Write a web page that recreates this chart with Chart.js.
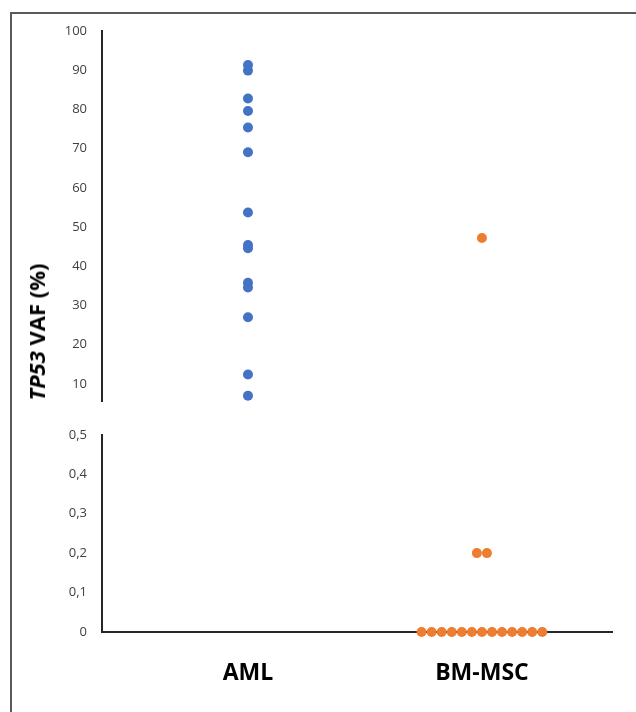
<!DOCTYPE html>
<html>
<head>
<meta charset="utf-8">
<script src="https://cdn.jsdelivr.net/npm/chart.js@4.4.0/dist/chart.umd.min.js"></script>
<style>
    html, body { margin: 0; padding: 0; background: #fff; }
    #page { position: relative; width: 636px; height: 712px; overflow: hidden; }
    #frame {
        position: absolute; left: 10px; top: 12px; right: -4px; bottom: -4px;
        border-top: 2px solid #5a5a5a; border-left: 2px solid #5a5a5a;
    }
    #upper { position: absolute; left: 0; top: 0; }
    #lower { position: absolute; left: 0; top: 420px; }
    #ytitle {
        position: absolute; left: 36px; top: 332px;
        transform: translate(-50%, -50%) rotate(-90deg);
        white-space: nowrap;
        font-family: "Open Sans", sans-serif; font-weight: bold; font-size: 22px; color: #000;
    }
</style>
</head>
<body>
<div id="page">
    <div id="frame"></div>
    <canvas id="upper" width="636" height="416"></canvas>
    <canvas id="lower" width="636" height="292"></canvas>
    <div id="ytitle"><i>TP53</i> VAF (%)</div>
</div>
<script>
// Data
const categories = ['AML', 'BM-MSC'];
const amlVaf = [91.3, 89.9, 82.8, 79.6, 75.4, 69.1, 53.7, 45.4, 44.6, 35.8, 34.6, 27.0, 12.4, 7.0];
const mscVaf = [47.2, 0.2, 0.2, 0, 0, 0, 0, 0, 0, 0, 0, 0, 0, 0, 0, 0];
const upperTicks = [10, 20, 30, 40, 50, 60, 70, 80, 90, 100];
const lowerTicks = [0, 0.1, 0.2, 0.3, 0.4, 0.5];

// Axis break: values above breakAt go in the upper panel
const breakAt = 0.5;
const upperMin = 5.6;
const xMin = 0.376, xMax = 2.556;
const dotStep = 0.043;   // horizontal step between tied points (swarm)

const colors = ['#4472C4', '#ED7D31'];
const axisColor = '#262626';
const tickFont = { family: 'Open Sans', size: 13 };

// spread equal values side by side around the category centre
function swarm(values, center) {
    const counts = {};
    values.forEach(v => counts[v] = (counts[v] || 0) + 1);
    const seen = {};
    return values.map(v => {
        const k = seen[v] || 0;
        seen[v] = k + 1;
        return { x: center + (k - (counts[v] - 1) / 2) * dotStep, y: v };
    });
}

const series = [amlVaf, mscVaf].map((vals, i) => swarm(vals, i + 1));

function buildDatasets(filter) {
    return series.map((pts, i) => ({
        label: categories[i],
        data: pts.filter(p => filter(p.y)),
        backgroundColor: colors[i],
        borderWidth: 0,
        pointRadius: 5,
        clip: false
    }));
}

function makeChart(canvasId, cfg) {
    const ctx = document.getElementById(canvasId)?.getContext('2d');
    if (!ctx) return null;
    return new Chart(ctx, {
        type: 'scatter',
        data: { datasets: cfg.datasets },
        options: {
            responsive: false,
            animation: false,
            events: [],
            layout: { padding: cfg.padding },
            plugins: { legend: { display: false }, tooltip: { enabled: false } },
            scales: {
                x: cfg.x,
                y: cfg.y
            }
        }
    });
}

makeChart('upper', {
    datasets: buildDatasets(v => v > breakAt),
    padding: { top: 31, right: 24, bottom: 10, left: 0 },
    x: { type: 'linear', display: false, min: xMin, max: xMax },
    y: {
        type: 'linear',
        min: upperMin,
        max: 100,
        afterFit: s => { s.width = 102; },
        afterBuildTicks: s => { s.ticks = upperTicks.map(v => ({ value: v })); },
        grid: { display: false },
        border: { display: true, color: axisColor, width: 2 },
        ticks: { padding: 7, color: '#404040', font: tickFont }
    }
});

makeChart('lower', {
    datasets: buildDatasets(v => v <= breakAt),
    padding: { top: 6, right: 24, bottom: 0, left: 0 },
    x: {
        type: 'linear',
        min: xMin,
        max: xMax,
        afterFit: s => { s.height = 80; },
        afterBuildTicks: s => { s.ticks = categories.map((c, i) => ({ value: i + 1 })); },
        grid: { display: false },
        border: { display: true, color: axisColor, width: 2 },
        ticks: {
            autoSkip: false,
            maxRotation: 0,
            padding: 20,
            color: '#000',
            font: { family: 'Open Sans', size: 23, weight: 'bold' },
            callback: v => categories[v - 1]
        }
    },
    y: {
        type: 'linear',
        min: 0,
        max: breakAt,
        afterFit: s => { s.width = 102; },
        afterBuildTicks: s => { s.ticks = lowerTicks.map(v => ({ value: v })); },
        grid: { display: false },
        border: { display: true, color: axisColor, width: 2 },
        ticks: {
            padding: 7,
            color: '#404040',
            font: tickFont,
            callback: v => v === 0 ? '0' : v.toFixed(1).replace('.', ',')
        }
    }
});
</script>
</body>
</html>
